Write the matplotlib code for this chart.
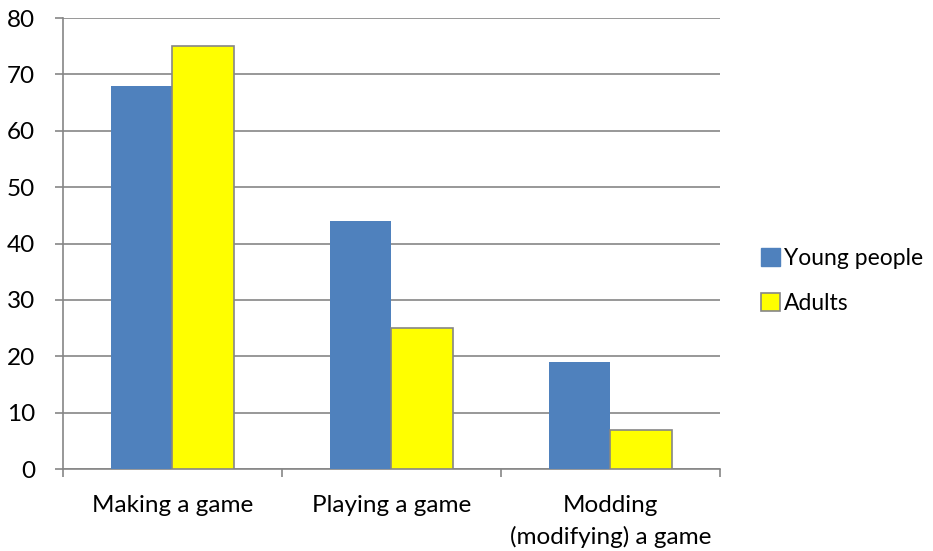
import numpy as np
import matplotlib.pyplot as plt
from matplotlib.patches import Patch

categories = ["Making a game", "Playing a game", "Modding\n(modifying) a game"]
young_people = [68, 44, 19]
adults = [75, 25, 7]
series_names = ["Young people", "Adults"]

plt.rcParams['font.family'] = ['Lato', 'DejaVu Sans']

fig = plt.figure(figsize=(9.33, 5.51), dpi=100)
ax = fig.add_axes([0.0675, 0.1488, 0.7042, 0.8185])

grey = "#868686"
blue = "#4F81BD"
yellow = "#FFFF00"
fs = 17.5

x = np.arange(len(categories))
w = 0.283
ax.bar(x - w / 2, young_people, w, color=blue, zorder=3)
ax.bar(x + w / 2, adults, w, color=yellow, edgecolor=grey, linewidth=1.2, zorder=3)

ax.set_xlim(-0.5, len(categories) - 0.5)
ax.set_ylim(0, 80)
ax.set_yticks(range(0, 81, 10))
ax.yaxis.grid(True, color=grey, linewidth=1.2, zorder=0)
ax.set_axisbelow(True)

ax.set_xticks(x)
ax.set_xticklabels(categories, fontsize=fs, linespacing=1.5)
ax.set_xticks(np.arange(-0.5, len(categories)), minor=True)
ax.tick_params(axis='x', which='major', length=0, pad=19)
ax.tick_params(axis='x', which='minor', length=6, width=1.2, color=grey)
ax.tick_params(axis='y', length=6, width=1.2, color=grey, pad=14, labelsize=fs)

for s in ["top", "right"]:
    ax.spines[s].set_visible(False)
for s in ["left", "bottom"]:
    ax.spines[s].set_color(grey)
    ax.spines[s].set_linewidth(1.2)

handles = [Patch(facecolor=blue, edgecolor=blue),
           Patch(facecolor=yellow, edgecolor=grey, linewidth=1.2)]
fig.legend(handles, series_names, loc="center left", bbox_to_anchor=(0.794, 0.49),
           frameon=False, fontsize=16.5, handlelength=0.8, handleheight=0.8,
           handletextpad=0.2, labelspacing=1.05)

fig.savefig("out.png", dpi=100)
